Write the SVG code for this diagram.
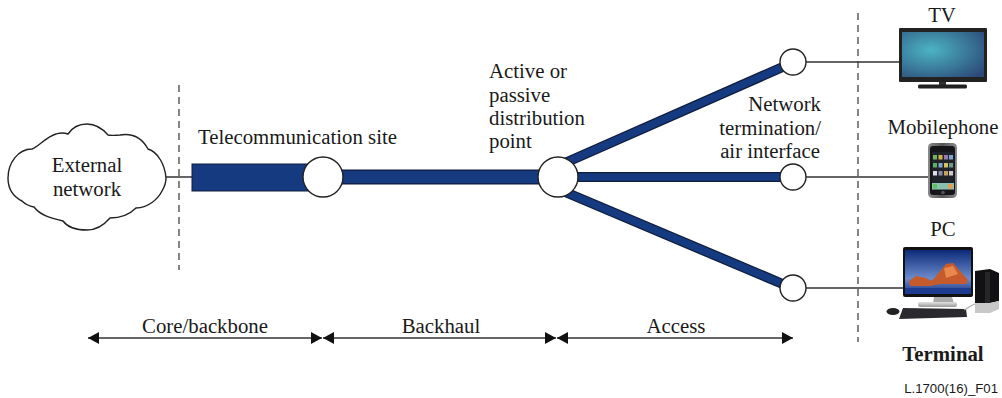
<svg xmlns="http://www.w3.org/2000/svg" width="1002" height="398" viewBox="0 0 1002 398">
<style>
text{font-family:"Liberation Serif","Times New Roman",serif;font-size:20.8px;fill:#1a1a1a}
.m{text-anchor:middle}
.e{text-anchor:end}
.thin{stroke:#333;stroke-width:1.3;fill:none}
.dash{stroke:#444;stroke-width:1.3;fill:none;stroke-dasharray:7 5}
.out{stroke:#101d3c;fill:none}
.in{stroke:#153a80;fill:none}
.c{fill:#fff;stroke:#222;stroke-width:1.4}
.dim{stroke:#333;stroke-width:1.5;fill:none;marker-start:url(#a);marker-end:url(#a)}
</style>
<defs>
<marker id="a" markerUnits="userSpaceOnUse" markerWidth="11" markerHeight="12" refX="11" refY="6" orient="auto-start-reverse"><path d="M0 0L11 6L0 12z" fill="#111"/></marker>
<radialGradient id="tv" cx="0.35" cy="0.4" r="0.8"><stop offset="0" stop-color="#4cb4c4"/><stop offset="1" stop-color="#2c4a78"/></radialGradient>
<linearGradient id="sky" x1="0" y1="0" x2="0" y2="1"><stop offset="0" stop-color="#0c2a78"/><stop offset="0.65" stop-color="#6d8ccc"/><stop offset="1" stop-color="#16307c"/></linearGradient>
<linearGradient id="ph" x1="0" y1="0" x2="1" y2="0"><stop offset="0" stop-color="#8a8a8a"/><stop offset="0.5" stop-color="#555"/><stop offset="1" stop-color="#8a8a8a"/></linearGradient>
<linearGradient id="base" x1="0" y1="0" x2="0" y2="1"><stop offset="0" stop-color="#e4e4e4"/><stop offset="1" stop-color="#999"/></linearGradient>
</defs>

<g id="connectors">
<path class="dash" d="M179 85V270M858 13V342"/>
<path class="thin" d="M166 177H192M806 62H899M806 177H929M806 288H903"/>
<path class="out" stroke-width="10" d="M558 166L785 66M558 177H793M558 189L785 285"/>
<path class="in" stroke-width="7.500" d="M558 166L785 66M558 177H793M558 189L785 285"/>
<path class="out" stroke-width="15" d="M323 177H558"/>
<path class="in" stroke-width="12.500" d="M323 177H558"/>
<path class="dim" d="M88 338H322"/>
<path class="dim" d="M323 338H556"/>
<path class="dim" d="M557 338H793"/>
</g>

<g id="external-network">
<path fill="#fff" stroke="#222" stroke-width="1.4" d="M32 149C18 149 8 163 8 178C8 189 14 197 22 201C26 205 29 206 34 207C40 215 50 218 63 221C68 228 78 230 87 230C96 230 104 225 110 218C120 218 130 214 136 208C148 208 158 199 162 191C165 186 166 182 166 178C165 165 158 152 148 149C142 138 132 133 120 135C116 135 112 136 108 135C102 128 95 124 87 124C79 124 72 128 68 134C62 132 60 133 56 134C46 137 38 147 32 149Z"/>
<text class="m" x="87" y="172">External</text>
<text class="m" x="87" y="196">network</text>
</g>

<g id="telecommunication-site">
<rect x="192" y="164" width="125" height="27" fill="#153a80" stroke="#101d3c" stroke-width="1"/>
<circle class="c" cx="323" cy="177" r="20"/>
<text x="198" y="144">Telecommunication site</text>
</g>

<g id="distribution-point">
<circle class="c" cx="558" cy="177" r="20"/>
<text x="489" y="78">Active or</text>
<text x="489" y="102">passive</text>
<text x="489" y="125">distribution</text>
<text x="489" y="148">point</text>
</g>

<g id="termination-top"><circle class="c" cx="793" cy="62" r="13"/></g>
<g id="termination-middle"><circle class="c" cx="793" cy="177" r="13"/></g>
<g id="termination-bottom"><circle class="c" cx="793" cy="288" r="13"/></g>
<g id="termination-label">
<text class="e" x="821" y="111">Network</text>
<text class="e" x="821" y="135">termination/</text>
<text class="e" x="820" y="158">air interface</text>
</g>

<g id="tv">
<text class="m" x="942" y="22">TV</text>
<rect x="899" y="28" width="88" height="54" rx="1" fill="#222"/>
<rect x="902" y="32" width="82" height="45" fill="url(#tv)"/>
<rect x="939" y="82" width="7" height="4" fill="#333"/>
<rect x="918" y="84.500" width="49" height="4" rx="1.500" fill="#222"/>
</g>

<g id="mobilephone">
<text class="m" x="943" y="134">Mobilephone</text>
<rect x="928" y="143" width="29" height="55" rx="4.500" fill="url(#ph)"/>
<rect x="930" y="146" width="25" height="49" rx="3" fill="#15151a"/>
<rect x="932" y="152" width="22" height="38" fill="#20222a"/>
<g>
<rect x="933" y="155" width="4" height="4.500" fill="#78b060"/><rect x="938.500" y="155" width="4" height="4.500" fill="#d2b24a"/><rect x="944" y="155" width="4" height="4.500" fill="#9a7ab0"/><rect x="949" y="155" width="4" height="4.500" fill="#7fa6d0"/>
<rect x="933" y="163" width="4" height="4.500" fill="#58b060"/><rect x="938.500" y="163" width="4" height="4.500" fill="#7fa6d0"/><rect x="944" y="163" width="4" height="4.500" fill="#d9c060"/><rect x="949" y="163" width="4" height="4.500" fill="#6a9a8a"/>
<rect x="933" y="171" width="4" height="4.500" fill="#ddd"/><rect x="938.500" y="171" width="4" height="4.500" fill="#88a"/><rect x="944" y="171" width="4" height="4.500" fill="#c9a35a"/><rect x="949" y="171" width="4" height="4.500" fill="#ccc"/>
</g>
<rect x="932" y="183" width="22" height="6.500" fill="#8ac0b0"/>
<rect x="933" y="184" width="4" height="4.500" fill="#60c060"/>
<rect x="948" y="184" width="5" height="4.500" fill="#e0a050"/>
<circle cx="943" cy="192.500" r="1.800" fill="#555"/>
</g>

<g id="pc">
<text class="m" x="943" y="236">PC</text>
<rect x="903" y="247" width="70" height="50" rx="2" fill="#111"/>
<rect x="905" y="250" width="66" height="44" fill="url(#sky)"/>
<path d="M909 281L916 276L926 278L932 281L946 264L953 263L968 280L966 284L940 284L930 286L910 286Z" fill="#c65a2c"/>
<path d="M944 268L953 266L958 274L946 278Z" fill="#e8884c"/>
<path d="M905 288H971V294H905Z" fill="#1c3a90"/>
<path d="M934 297H952L954 303H933Z" fill="#a9a9a9"/>
<rect x="918" y="302" width="39" height="5" rx="2" fill="url(#base)"/>
<path d="M903 308L966 309L967 317L899 319Z" fill="#2a2a2e"/>
<ellipse cx="893" cy="311.500" rx="6.500" ry="3.500" fill="#222"/>
<path d="M975 271L990 269L999 273V301L990 303H975Z" fill="#111114"/>
<path d="M985 272H990V303H985Z" fill="#26262a"/>
<path d="M975 303H990L999 301V309L990 313H975Z" fill="#c8c8c8"/>
<path d="M964 310C968 309 970 305 975 304" fill="none" stroke="#aaa" stroke-width="1.200"/>
</g>

<g id="labels">
<text class="m" x="205" y="333">Core/backbone</text>
<text class="m" x="441" y="333">Backhaul</text>
<text class="m" x="676" y="333">Access</text>
<text class="m" x="943" y="361" font-weight="700">Terminal</text>
<text x="998" y="393" class="e" style="font-family:'Liberation Sans',Arial,sans-serif;font-size:13.200px">L.1700(16)_F01</text>
</g>
</svg>
